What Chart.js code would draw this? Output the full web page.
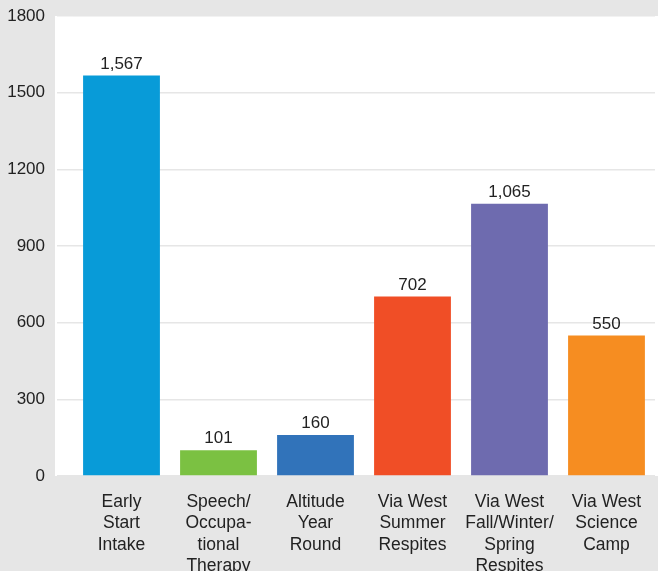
<!DOCTYPE html>
<html lang="en">
<head>
    <meta charset="UTF-8">
    <title>Program participation</title>
    <style>
        body {
            margin: 0;
            padding: 0;
            background: #e6e6e6;
            overflow: hidden;
        }
        .wrap {
            width: 658px;
            height: 571px;
        }
    </style>
</head>
<body>
    <div class="wrap"><canvas id="chart"></canvas></div>
    <script src="https://cdn.jsdelivr.net/npm/chart.js@4/dist/chart.umd.min.js"></script>
    <script>
        const categories = [
            ['Early', 'Start', 'Intake'],
            ['Speech/', 'Occupa-', 'tional', 'Therapy'],
            ['Altitude', 'Year', 'Round'],
            ['Via West', 'Summer', 'Respites'],
            ['Via West', 'Fall/Winter/', 'Spring', 'Respites'],
            ['Via West', 'Science', 'Camp']
        ];
        const participants = [1567, 101, 160, 702, 1065, 550];
        const barColors = ['#089bd8', '#7bc142', '#3173ba', '#f04e26', '#6e6baf', '#f68d21'];
        const yTicks = [0, 300, 600, 900, 1200, 1500, 1800];

        const fontFamily = '"Liberation Sans", Arial, Helvetica, sans-serif';

        // white plot panel behind the bars
        const panel = {
            id: 'panel',
            beforeDraw(chart) {
                const { ctx, chartArea, scales } = chart;
                const zero = scales.y.getPixelForValue(0);
                ctx.save();
                ctx.fillStyle = '#ffffff';
                ctx.fillRect(55, chartArea.top, chart.width - 55, zero - chartArea.top);
                ctx.restore();
            }
        };

        // numbers above each bar
        const valueLabels = {
            id: 'valueLabels',
            afterDatasetsDraw(chart) {
                const { ctx } = chart;
                const meta = chart.getDatasetMeta(0);
                ctx.save();
                ctx.font = '17px ' + fontFamily;
                ctx.fillStyle = '#222222';
                ctx.textAlign = 'center';
                ctx.textBaseline = 'bottom';
                meta.data.forEach((bar, i) => {
                    ctx.fillText(participants[i].toLocaleString('en-US'), bar.x, bar.y - 3);
                });
                ctx.restore();
            }
        };

        new Chart(document.getElementById('chart'), {
            type: 'bar',
            data: {
                labels: categories,
                datasets: [{
                    data: participants,
                    backgroundColor: barColors,
                    borderWidth: 0,
                    barPercentage: 0.8,
                    categoryPercentage: 0.99
                }]
            },
            options: {
                responsive: true,
                maintainAspectRatio: false,
                animation: false,
                layout: {
                    padding: { top: 16, right: 3, left: 0, bottom: 0 }
                },
                plugins: {
                    legend: { display: false },
                    tooltip: { enabled: false }
                },
                scales: {
                    x: {
                        grid: { display: false },
                        border: { display: false },
                        ticks: {
                            color: '#222222',
                            padding: 7,
                            maxRotation: 0,
                            autoSkip: false,
                            font: { family: fontFamily, size: 17.5, lineHeight: 1.23 }
                        },
                        afterFit(scale) { scale.height = 95; }
                    },
                    y: {
                        min: 0,
                        max: 1800,
                        afterBuildTicks(scale) {
                            scale.ticks = yTicks.map(v => ({ value: v }));
                        },
                        afterFit(scale) {
                            scale.width = 73;
                            scale.paddingTop = 0;
                            scale.paddingBottom = 0;
                        },
                        grid: {
                            color: '#e6e6e6',
                            lineWidth: 1.5,
                            drawTicks: true,
                            tickLength: 16
                        },
                        border: { display: false },
                        ticks: {
                            color: '#222222',
                            padding: 12,
                            font: { family: fontFamily, size: 17 },
                            callback: v => String(v)
                        }
                    }
                }
            },
            plugins: [panel, valueLabels]
        });
    </script>
</body>
</html>
